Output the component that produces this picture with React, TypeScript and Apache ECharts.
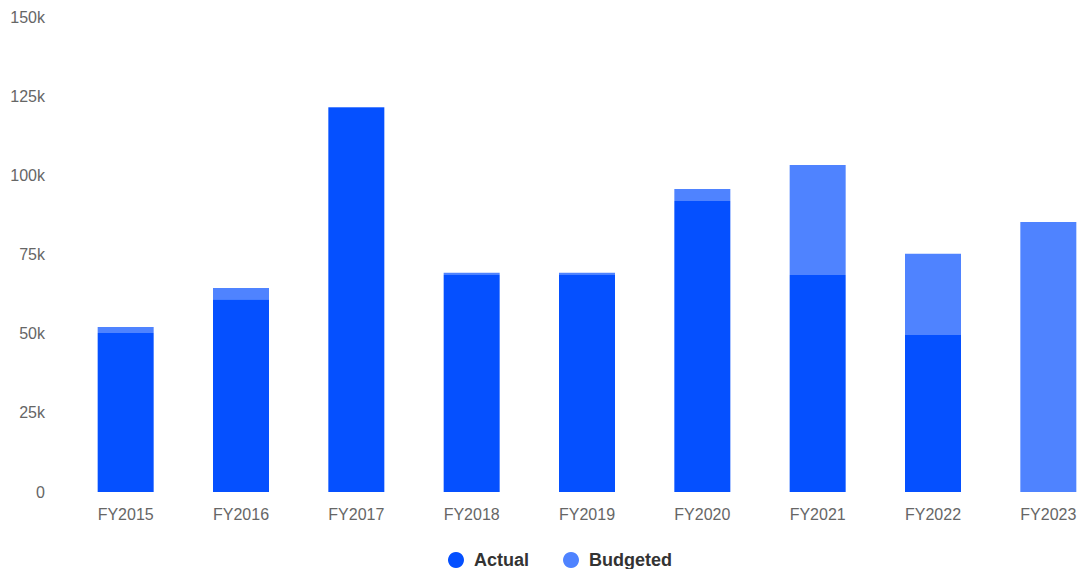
import React, { useEffect, useRef } from "react";
import * as echarts from "echarts";

const categories = ["FY2015", "FY2016", "FY2017", "FY2018", "FY2019", "FY2020", "FY2021", "FY2022", "FY2023"];
// Actual spend (lower, dark segment)
const actual = [50200, 60900, 121300, 68500, 68500, 91900, 68500, 49600, 0];
// Budgeted amount shown on top of actual (light segment)
const budgeted = [1900, 3500, 300, 700, 700, 3800, 34800, 25600, 85300];
const yTicks = { min: 0, max: 150000, interval: 25000 };

const FONT = "'Liberation Sans', Arial, Helvetica, sans-serif";

export default function App() {
  const ref = useRef<HTMLDivElement>(null);
  useEffect(() => {
    if (!ref.current) return;
    const chart = echarts.init(ref.current, undefined, { renderer: "svg" });
    chart.setOption({
      animation: false,
      textStyle: { fontFamily: FONT },
      grid: { left: 68, right: 14, top: 17, bottom: 77, containLabel: false },
      legend: {
        data: ["Actual", "Budgeted"],
        left: "center",
        top: 551,
        padding: 0,
        icon: "circle",
        itemWidth: 16,
        itemHeight: 16,
        itemGap: 34,
        textStyle: { fontSize: 18, fontWeight: "bold", color: "#333", fontFamily: FONT, padding: [0, 0, 0, 5] },
      },
      xAxis: {
        type: "category",
        data: categories,
        axisLine: { show: false },
        axisTick: { show: false },
        axisLabel: { color: "#666", fontSize: 16, margin: 14, fontFamily: FONT },
      },
      yAxis: {
        type: "value",
        min: yTicks.min,
        max: yTicks.max,
        interval: yTicks.interval,
        splitLine: { show: false },
        axisLine: { show: false },
        axisTick: { show: false },
        axisLabel: {
          color: "#666",
          fontSize: 16,
          margin: 23,
          fontFamily: FONT,
          formatter: (v: number) => (v === 0 ? "0" : v / 1000 + "k"),
        },
      },
      series: [
        {
          name: "Actual",
          type: "bar",
          stack: "total",
          barWidth: 56,
          data: actual,
          itemStyle: { color: "#0550FF" },
        },
        {
          name: "Budgeted",
          type: "bar",
          stack: "total",
          barWidth: 56,
          data: budgeted,
          itemStyle: { color: "#4F83FF" },
        },
      ],
    });
    return () => chart.dispose();
  }, []);
  return (
    <div style={{ position: "fixed", left: 0, top: 0, width: 1078, height: 569, overflow: "hidden", background: "#fff" }}>
      <div ref={ref} style={{ width: 1120, height: 569 }} />
    </div>
  );
}
